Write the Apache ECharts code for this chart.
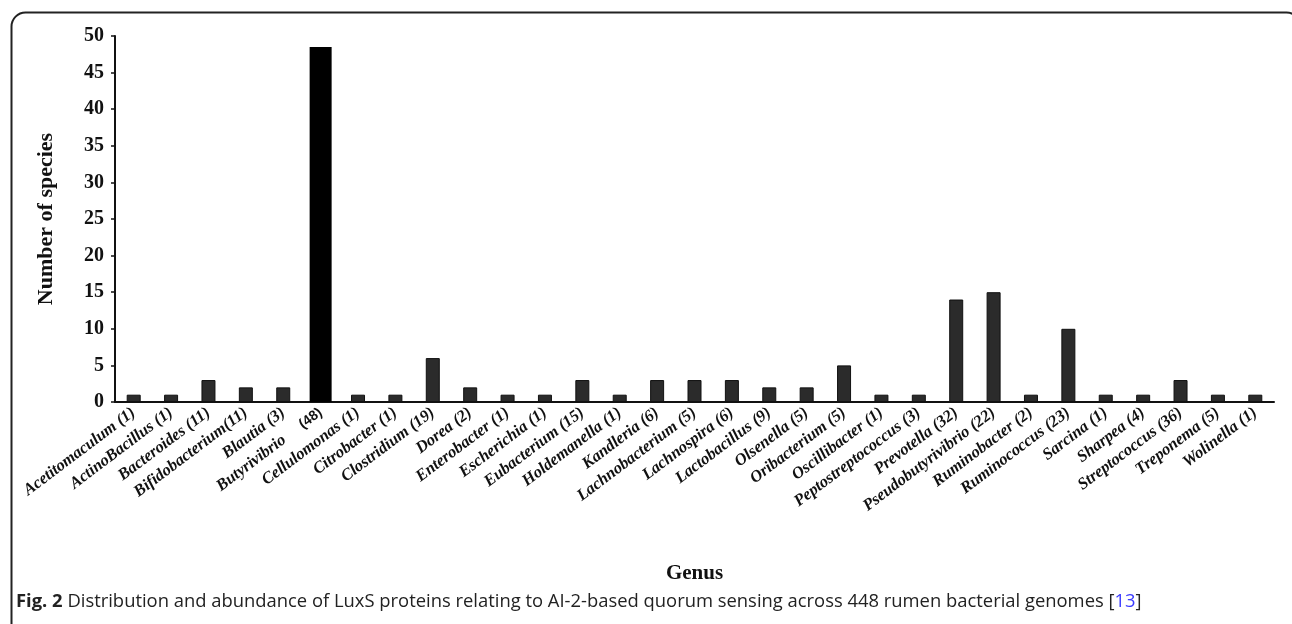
<!DOCTYPE html>
<html>
<head>
<meta charset="utf-8">
<script src="https://cdn.jsdelivr.net/npm/echarts@6/dist/echarts.min.js"></script>
<style>
html,body{margin:0;padding:0;background:#fff;}
#chart{width:1292px;height:624px;}
</style>
</head>
<body>
<div id="chart"></div>
<script>
const genera = ["Acetitomaculum (1)", "ActinoBacillus (1)", "Bacteroides (11)", "Bifidobacterium(11)", "Blautia (3)", "Butyrivibrio (48)", "Cellulomonas (1)", "Citrobacter (1)", "Clostridium (19)", "Dorea (2)", "Enterobacter (1)", "Escherichia (1)", "Eubacterium (15)", "Holdemanella (1)", "Kandleria (6)", "Lachnobacterium (5)", "Lachnospira (6)", "Lactobacillus (9)", "Olsenella (5)", "Oribacterium (5)", "Oscillibacter (1)", "Peptostreptococcus (3)", "Prevotella (32)", "Pseudobutyrivibrio (22)", "Ruminobacter (2)", "Ruminococcus (23)", "Sarcina (1)", "Sharpea (4)", "Streptococcus (36)", "Treponema (5)", "Wolinella (1)"];
const speciesCount = [1, 1, 3, 2, 2, 48.5, 1, 1, 6, 2, 1, 1, 3, 1, 3, 3, 3, 2, 2, 5, 1, 1, 14, 15, 1, 10, 1, 1, 3, 1, 1];
const highlightGenus = "Butyrivibrio (48)";
const yTicks = [0, 5, 10, 15, 20, 25, 30, 35, 40, 45, 50];

const hiIdx = genera.indexOf(highlightGenus);
const normalData = speciesCount.map((v, i) => i === hiIdx ? '-' : v);
const highData = speciesCount.map((v, i) => i === hiIdx ? v : '-');

const serif = '"Liberation Serif", "Times New Roman", serif';
const capFont = '"Open Sans", "Noto Sans", sans-serif';
const chart = echarts.init(document.getElementById('chart'), null, {renderer: 'canvas'});
chart.setOption({
  animation: false,
  backgroundColor: '#fff',
  grid: {left: 115, right: 18, top: 36, bottom: 222, containLabel: false},
  xAxis: [{
    type: 'category',
    data: genera,
    name: 'Genus',
    nameLocation: 'middle',
    nameGap: 161,
    nameTextStyle: {fontFamily: serif, fontWeight: 'bold', fontSize: 21, color: '#111'},
    axisLine: {lineStyle: {color: '#111', width: 2}},
    axisTick: {show: false},
    axisLabel: {
      interval: 0,
      rotate: 37,
      margin: 9,
      fontFamily: serif,
      fontStyle: 'italic',
      fontWeight: 'bold',
      fontSize: 16.5,
      color: '#111',
      formatter: function (v) {
        if (v === highlightGenus) {
          const p = v.lastIndexOf(' (');
          return '{a|' + v.slice(0, p) + '}     {b|' + v.slice(p + 1) + '}';
        }
        return v;
      },
      rich: {
        a: {fontFamily: serif, fontStyle: 'italic', fontWeight: 'bold', fontSize: 16.5, color: '#111'},
        b: {fontFamily: '"Liberation Sans", Arial, sans-serif', fontStyle: 'normal', fontWeight: 'bold', fontSize: 14, color: '#111'}
      }
    }
  }, {
    type: 'category',
    data: genera,
    show: false
  }],
  yAxis: {
    type: 'value',
    min: 0,
    max: 50,
    interval: 5,
    name: 'Number of species',
    nameLocation: 'middle',
    nameGap: 58,
    nameTextStyle: {fontFamily: serif, fontWeight: 'bold', fontSize: 22, color: '#111'},
    axisLine: {show: true, lineStyle: {color: '#111', width: 2}},
    axisTick: {show: true, length: 4, lineStyle: {color: '#111', width: 1.5}},
    splitLine: {show: false},
    axisLabel: {
      fontFamily: serif, fontWeight: 'bold', fontSize: 20, color: '#111', margin: 11,
      formatter: function (v) { return yTicks.indexOf(v) >= 0 ? String(v) : ''; }
    }
  },
  series: [{
    type: 'bar',
    xAxisIndex: 0,
    data: normalData,
    barWidth: 14,
    itemStyle: {color: '#2b2b2b', borderColor: '#111', borderWidth: 1}
  }, {
    type: 'bar',
    xAxisIndex: 1,
    data: highData,
    barWidth: 22,
    itemStyle: {color: '#000'}
  }],
  graphic: [{
    type: 'rect',
    left: 9, top: 10,
    shape: {x: 0, y: 0, width: 1289, height: 700, r: 14},
    style: {fill: 'none', stroke: '#222', lineWidth: 2},
    silent: true
  }, {
    type: 'text',
    left: 16, top: 593,
    style: {
      text: '{f|Fig. 2} Distribution and abundance of LuxS proteins relating to AI-2-based quorum sensing across 448 rumen bacterial genomes [{r|13}]',
      fontFamily: capFont,
      fontSize: 18.4,
      fill: '#222',
      rich: {
        f: {fontFamily: capFont, fontWeight: 'bold', fontSize: 18.4, fill: '#222'},
        r: {fontFamily: capFont, fontSize: 18.4, fill: '#3b3bff'}
      }
    }
  }]
});
</script>
</body>
</html>
